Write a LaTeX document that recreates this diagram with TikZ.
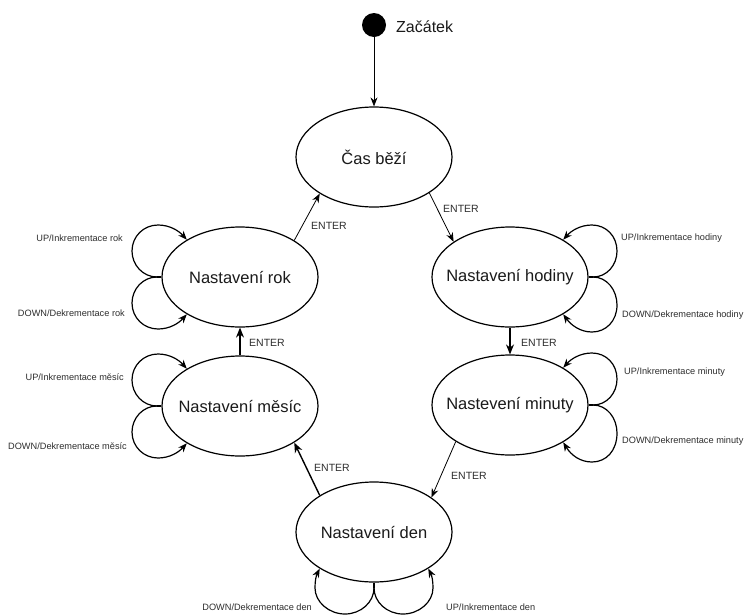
\documentclass[tikz,border=0pt]{standalone}
\usepackage{fontspec}
\setmainfont{Liberation Sans}
\usetikzlibrary{arrows.meta,shapes.geometric}
\definecolor{txt}{HTML}{1A1A1A}
\definecolor{lbl}{HTML}{2E2E2E}
\newcommand{\stxt}[1]{\makebox[0pt][c]{#1}}
\tikzset{
  x=1pt, y=-1pt,
  state/.style={ellipse, draw=black, line width=1.2pt, minimum width=156pt, minimum height=100pt, inner sep=0pt, text=txt, font=\fontsize{16.5}{18}\selectfont},
  thinarrow/.style={draw=black, line width=0.8pt, -{Stealth[length=9pt,width=7pt]}},
  thickarrow/.style={draw=black, line width=1.4pt, -{Stealth[length=10pt,width=8pt]}},
  loopline/.style={draw=black, line width=1.2pt, -{Stealth[length=9pt,width=7pt]}},
  enterlbl/.style={anchor=west, inner sep=0pt, text=lbl, font=\fontsize{10.5}{12}\selectfont},
  looplbl/.style={inner sep=0pt, text=lbl, font=\fontsize{9.2}{11}\selectfont},
}
\begin{document}
\begin{tikzpicture}
\path[fill=white] (0,0) rectangle (744,614);
\useasboundingbox (0,0) rectangle (744,614);

% start
\node[circle, fill=black, minimum size=24pt, inner sep=0pt] (start) at (374,25) {};
\node[anchor=west, inner sep=0pt, text=txt, font=\fontsize{16}{18}\selectfont] (zac) at (396,27) {Začátek};

% states
\node[state] (cas) at (374,157) {\stxt{Čas běží}};
\node[state] (rok) at (240,277) {\stxt{Nastavení rok}};
\node[state] (hod) at (510,277) {\stxt{Nastavení hodiny}};
\node[state] (mes) at (240,406) {\stxt{Nastavení měsíc}};
\node[state] (min) at (510,405) {\stxt{Nastevení minuty}};
\node[state] (den) at (374,532) {\stxt{Nastavení den}};

% transitions
\draw[thinarrow] (start) -- (cas);
\draw[thinarrow] (cas.-33) -- (hod.148);
\draw[thinarrow] (rok.34) -- (cas.214);
\draw[thickarrow] (hod.south) -- (min.north);
\draw[thickarrow] (mes.north) -- (rok.south);
\draw[thinarrow] (min.214) -- (den.31);
\draw[thickarrow] (den.146) -- (mes.-34);

% ENTER labels
\node[enterlbl] (e1) at (443,209) {ENTER};
\node[enterlbl] (e2) at (311,226) {ENTER};
\node[enterlbl] (e3) at (521,343) {ENTER};
\node[enterlbl] (e4) at (249,343) {ENTER};
\node[enterlbl] (e5) at (451,476) {ENTER};
\node[enterlbl] (e6) at (314,468) {ENTER};

% self loops: rok
\coordinate (rs) at (157,277);
\draw[line width=1.2pt] (rok.west) -- (rs);
\draw[loopline] (rs) .. controls (143,277) and (132,265) .. (132,251) .. controls (132,236) and (144,225) .. (158,225) .. controls (170,225) and (179,231) .. (rok.145);
\draw[loopline] (rs) .. controls (143,277) and (132,289) .. (132,303) .. controls (132,318) and (144,329) .. (158,329) .. controls (170,329) and (179,323) .. (rok.215);
% self loops: mes
\coordinate (ms) at (157,406);
\draw[line width=1.2pt] (mes.west) -- (ms);
\draw[loopline] (ms) .. controls (143,406) and (132,394) .. (132,380) .. controls (132,365) and (144,354) .. (158,354) .. controls (170,354) and (179,360) .. (mes.145);
\draw[loopline] (ms) .. controls (143,406) and (132,418) .. (132,432) .. controls (132,447) and (144,458) .. (158,458) .. controls (170,458) and (179,452) .. (mes.215);
% self loops: hod
\coordinate (hs) at (593,277);
\draw[line width=1.2pt] (hod.east) -- (hs);
\draw[loopline] (hs) .. controls (607,277) and (617,265) .. (617,251) .. controls (617,236) and (606,225) .. (592,225) .. controls (580,225) and (571,231) .. (hod.35);
\draw[loopline] (hs) .. controls (607,277) and (617,290) .. (617,305) .. controls (617,321) and (606,332) .. (592,332) .. controls (580,332) and (571,325) .. (hod.-35);
% self loops: min
\coordinate (mis) at (593,405);
\draw[line width=1.2pt] (min.east) -- (mis);
\draw[loopline] (mis) .. controls (607,405) and (617,393) .. (617,379) .. controls (617,364) and (606,353) .. (592,353) .. controls (580,353) and (571,359) .. (min.35);
\draw[loopline] (mis) .. controls (607,405) and (617,418) .. (617,433) .. controls (617,451) and (606,462) .. (592,462) .. controls (580,462) and (571,455) .. (min.-35);
% self loops: den
\coordinate (ds) at (374,588);
\draw[line width=1.2pt] (den.south) -- (ds);
\draw[loopline] (ds) .. controls (374,602) and (361,614) .. (345,614) .. controls (329,614) and (315,602) .. (315,588) .. controls (315,581) and (316,576) .. (den.214);
\draw[loopline] (ds) .. controls (374,602) and (387,614) .. (403,614) .. controls (419,614) and (433,602) .. (433,588) .. controls (433,581) and (432,576) .. (den.326);

% loop labels
\node[looplbl, anchor=east] (l1) at (123,238) {UP/Inkrementace rok};
\node[looplbl, anchor=east] (l2) at (125,313) {DOWN/Dekrementace rok};
\node[looplbl, anchor=east] (l3) at (124,377) {UP/Inkrementace měsíc};
\node[looplbl, anchor=east] (l4) at (127,446) {DOWN/Dekrementace měsíc};
\node[looplbl, anchor=west] (l5) at (621,238) {UP/Inkrementace hodiny};
\node[looplbl, anchor=west] (l6) at (622,315) {DOWN/Dekrementace hodiny};
\node[looplbl, anchor=west] (l7) at (624,372) {UP/Inkrementace minuty};
\node[looplbl, anchor=west] (l8) at (622,441) {DOWN/Dekrementace minuty};
\node[looplbl, anchor=east] (l9) at (312,607) {DOWN/Dekrementace den};
\node[looplbl, anchor=west] (l10) at (446,607) {UP/Inkrementace den};
\end{tikzpicture}
\end{document}
